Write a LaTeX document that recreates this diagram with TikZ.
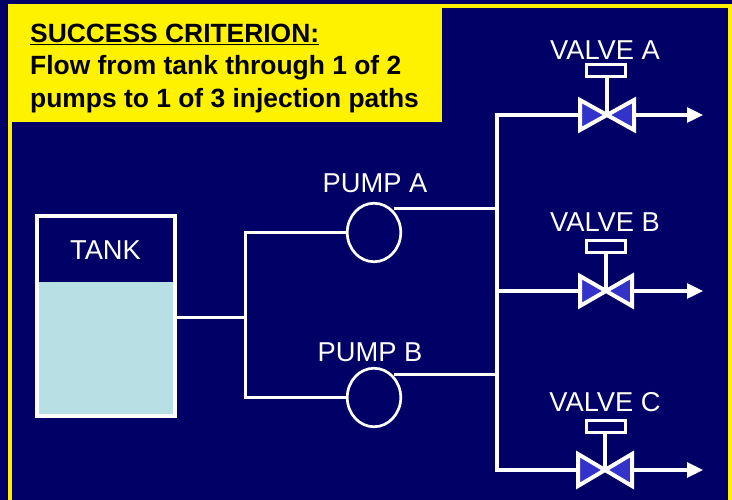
\documentclass[tikz,border=0pt]{standalone}
\usepackage{fontspec}
\setmainfont{Liberation Sans}
\usetikzlibrary{arrows.meta,shapes.geometric}
\definecolor{navy}{RGB}{0,0,102}
\definecolor{tankfill}{RGB}{184,224,228}
\definecolor{valveblue}{RGB}{51,51,204}
\tikzset{
  pipe/.style={draw=white,line width=3.2pt},
  thinpipe/.style={draw=white,line width=3pt},
  outpipe/.style={draw=white,line width=3.2pt,-{Triangle[length=16pt,width=15pt]}},
  lbl/.style={text=white,font=\fontsize{27.3}{32}\selectfont,inner sep=0pt,anchor=center},
  pumpshape/.style={draw=white,line width=2.7pt,fill=navy,ellipse,minimum width=53.5pt,minimum height=58.5pt,inner sep=0pt},
  actuator/.style={draw=white,line width=3pt,fill=navy,minimum width=39pt,minimum height=12pt,inner sep=0pt},
  wing/.style={draw=white,line width=4pt,fill=valveblue,miter limit=10},
  crit/.style={font=\bfseries\fontsize{26.4}{33}\selectfont,text=black,align=left,anchor=north west,inner sep=0pt}
}
% #1 name, #2 centre x, #3 centre y, #4 half-width, #5 half-height
\newcommand{\valvesym}[5]{%
  \coordinate (#1) at (#2,#3);
  \coordinate (#1L) at (#2-#4,#3);
  \coordinate (#1R) at (#2+#4,#3);
  \node[actuator] (#1act) at (606,#3-44) {};
  \draw[pipe] (#1act.south -| #1) -- (#1);
  \draw[wing] (#1) -- (#1L |- 0,#3-#5) -- (#1L |- 0,#3+#5) -- cycle;
  \draw[wing] (#1) -- (#1R |- 0,#3-#5) -- (#1R |- 0,#3+#5) -- cycle;
}
\begin{document}
\begin{tikzpicture}[x=1pt,y=-1pt]
\useasboundingbox (0,0) rectangle (732,500);
\fill[navy] (0,0) rectangle (732,500);
\fill[yellow] (8,4) rectangle (732,500);
\fill[navy] (12,8) rectangle (728,500);
\fill[yellow] (12,8) rectangle (442,122);
\node[crit] (criterion) at (30,24) {\underline{SUCCESS CRITERION:}\\[-1pt]Flow from tank through 1 of 2\\pumps to 1 of 3 injection paths};
% tank
\fill[tankfill] (37,282) rectangle (174,415);
\node[draw=white,line width=4pt,minimum width=138pt,minimum height=200pt,inner sep=0pt] (tank) at (106,316) {};
\node[lbl] (tanklabel) at (105.5,250) {TANK};
% pumps
\node[pumpshape] (pumpA) at (374,232.5) {};
\node[pumpshape] (pumpB) at (374,397.5) {};
\node[lbl] (pumpAlabel) at (375,183) {PUMP A};
\node[lbl] (pumpBlabel) at (370,352) {PUMP B};
% junctions
\coordinate (tankout) at (tank.east |- 0,317);
\coordinate (split) at (245,317);
\coordinate (busTop) at (497,115);
\coordinate (busBot) at (497,470);
\coordinate (busA) at (497,209);
\coordinate (busB) at (497,374);
\draw[thinpipe] (tankout) -- (split);
\draw[thinpipe] (pumpA.west) -| (split) |- (pumpB.west);
\draw[thinpipe] (pumpA.north east |- busA) -- (busA);
\draw[thinpipe] (pumpB.north east |- busB) -- (busB);
% valves
\valvesym{vA}{607}{115}{27}{15}
\valvesym{vB}{606}{291}{26}{15}
\valvesym{vC}{605}{470}{27}{16}
\coordinate (endA) at (703,115);
\coordinate (endB) at (703,291);
\coordinate (endC) at (703,470);
\draw[pipe,line cap=rect] (busBot) -- (busTop) -- (vAL);
\draw[pipe] (497,291) -- (vBL);
\draw[pipe] (busBot) -- (vCL);
\draw[outpipe] (vAR) -- (endA);
\draw[outpipe] (vBR) -- (endB);
\draw[outpipe] (vCR) -- (endC);
\node[lbl] (vAlabel) at (605,50) {VALVE A};
\node[lbl] (vBlabel) at (605,222) {VALVE B};
\node[lbl] (vClabel) at (605,402) {VALVE C};
\end{tikzpicture}
\end{document}
